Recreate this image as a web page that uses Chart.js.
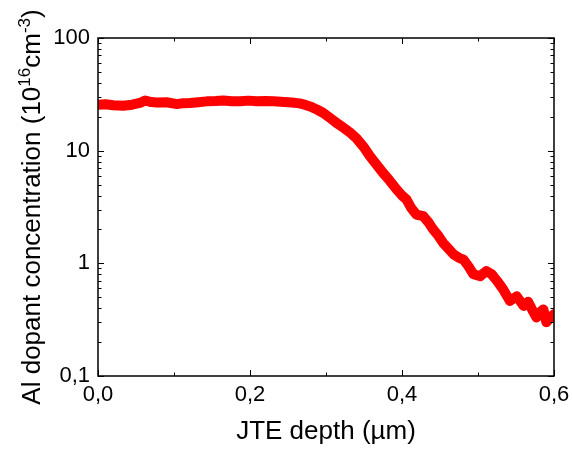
<!DOCTYPE html>
<html>
<head>
<meta charset="utf-8">
<script src="https://cdn.jsdelivr.net/npm/chart.js@4.4.1/dist/chart.umd.min.js"></script>
<style>
html,body{margin:0;padding:0;background:#fff;}
#wrap{width:573px;height:450px;}
</style>
</head>
<body>
<div id="wrap"><canvas id="c" width="573" height="450"></canvas></div>
<script>
// ---- data ----
const depth = [0.000,0.010,0.020,0.033,0.045,0.055,0.062,0.070,0.077,0.090,0.104,0.112,0.121,0.132,0.143,0.155,0.165,0.176,0.187,0.198,0.209,0.220,0.231,0.245,0.255,0.265,0.272,0.279,0.288,0.2965,0.305,0.314,0.323,0.332,0.340,0.349,0.358,0.366,0.375,0.384,0.393,0.400,0.406,0.412,0.419,0.428,0.435,0.441,0.448,0.454,0.461,0.468,0.475,0.481,0.487,0.494,0.503,0.511,0.518,0.525,0.533,0.542,0.551,0.560,0.566,0.572,0.577,0.582,0.586,0.590,0.595,0.600];
const concentration = [25.5,25.8,25.3,25.0,25.6,26.5,27.9,27.0,26.8,26.9,25.9,26.4,26.5,26.9,27.4,27.6,27.9,27.5,27.4,27.8,27.4,27.6,27.4,27.0,26.8,26.3,25.6,24.7,23.2,21.6,19.6,17.6,16.0,14.4,12.9,10.9,8.9,7.6,6.35,5.4,4.52,4.0,3.68,3.1,2.71,2.62,2.3,2.0,1.75,1.52,1.35,1.20,1.12,1.08,0.95,0.80,0.77,0.855,0.80,0.70,0.589,0.464,0.51,0.419,0.455,0.38,0.331,0.37,0.39,0.30,0.33,0.354];
const xTicks = [0, 0.2, 0.4, 0.6];
const xMinorTicks = [0.1, 0.3, 0.5];
const yTicks = [0.1, 1, 10, 100];
const xTitle = 'JTE depth (µm)';
const yTitleParts = [['Al dopant concentration (10', false], ['16', true], ['cm', false], ['-3', true], [')', false]];

const FONT = "Arial, 'Liberation Sans', Helvetica, sans-serif";
const fmt = v => String(v).replace('.', ',');

const framePlugin = {
  id: 'frame',
  afterDatasetsDraw(chart) {
    const ctx = chart.ctx, a = chart.chartArea;
    const xs = chart.scales.x, ys = chart.scales.y;
    ctx.save();
    ctx.strokeStyle = '#000';
    ctx.lineWidth = 1.5;
    ctx.strokeRect(a.left, a.top, a.right - a.left, a.bottom - a.top);
    ctx.lineWidth = 1;
    const major = 6, minor = 3.5;
    ctx.beginPath();
    const xt = (v, len) => {
      const p = Math.round(xs.getPixelForValue(v)) + 0.5;
      ctx.moveTo(p, a.bottom); ctx.lineTo(p, a.bottom - len);
      ctx.moveTo(p, a.top); ctx.lineTo(p, a.top + len);
    };
    xTicks.forEach(v => xt(v, major));
    xMinorTicks.forEach(v => xt(v, minor));
    const yt = (v, len) => {
      const p = Math.round(ys.getPixelForValue(v)) + 0.5;
      ctx.moveTo(a.left, p); ctx.lineTo(a.left + len, p);
      ctx.moveTo(a.right, p); ctx.lineTo(a.right - len, p);
    };
    for (let d = 0; d < yTicks.length; d++) {
      yt(yTicks[d], major);
      if (d < yTicks.length - 1) {
        for (let m = 2; m <= 9; m++) yt(yTicks[d] * m, minor);
      }
    }
    ctx.stroke();

    // y title with superscripts
    const big = '26px ' + FONT, small = '17px ' + FONT;
    let total = 0;
    yTitleParts.forEach(([t, sup]) => { ctx.font = sup ? small : big; total += ctx.measureText(t).width; });
    const cy = (a.top + a.bottom) / 2;
    ctx.translate(40, cy);
    ctx.rotate(-Math.PI / 2);
    ctx.fillStyle = '#000';
    ctx.textBaseline = 'alphabetic';
    ctx.textAlign = 'left';
    let x = -total / 2;
    yTitleParts.forEach(([t, sup]) => {
      ctx.font = sup ? small : big;
      ctx.fillText(t, x, sup ? -10 : 0);
      x += ctx.measureText(t).width;
    });
    ctx.restore();
  }
};

new Chart(document.getElementById('c'), {
  type: 'line',
  data: {
    datasets: [{
      data: depth.map((d, i) => ({ x: d, y: concentration[i] })),
      borderColor: '#ff0000',
      backgroundColor: '#ff0000',
      borderWidth: 10,
      pointRadius: 0,
      tension: 0,
      borderCapStyle: 'round',
      borderJoinStyle: 'round',
      clip: 0
    }]
  },
  options: {
    responsive: false,
    animation: false,
    layout: { padding: { left: 0, top: 38, right: 19, bottom: 0 } },
    plugins: { legend: { display: false }, tooltip: { enabled: false } },
    scales: {
      x: {
        type: 'linear', min: 0, max: 0.6,
        grid: { display: false, drawTicks: false },
        border: { display: false },
        afterBuildTicks: s => { s.ticks = xTicks.map(v => ({ value: v })); },
        afterFit: s => { s.height = 74; s.paddingLeft = 0; s.paddingRight = 0; },
        ticks: { color: '#000', font: { family: FONT, size: 22 }, padding: 6, maxRotation: 0, callback: v => Number(v).toFixed(1).replace('.', ',') },
        title: { display: true, text: xTitle, color: '#000', font: { family: FONT, size: 26 }, padding: { top: 0, bottom: 3 } }
      },
      y: {
        type: 'logarithmic', min: 0.1, max: 100,
        grid: { display: false, drawTicks: false },
        border: { display: false },
        afterBuildTicks: s => { s.ticks = yTicks.map(v => ({ value: v })); },
        afterFit: s => { s.width = 98; s.paddingTop = 0; s.paddingBottom = 0; },
        ticks: { color: '#000', font: { family: FONT, size: 22 }, padding: 8, callback: v => fmt(v) }
      }
    }
  },
  plugins: [framePlugin]
});
</script>
</body>
</html>
